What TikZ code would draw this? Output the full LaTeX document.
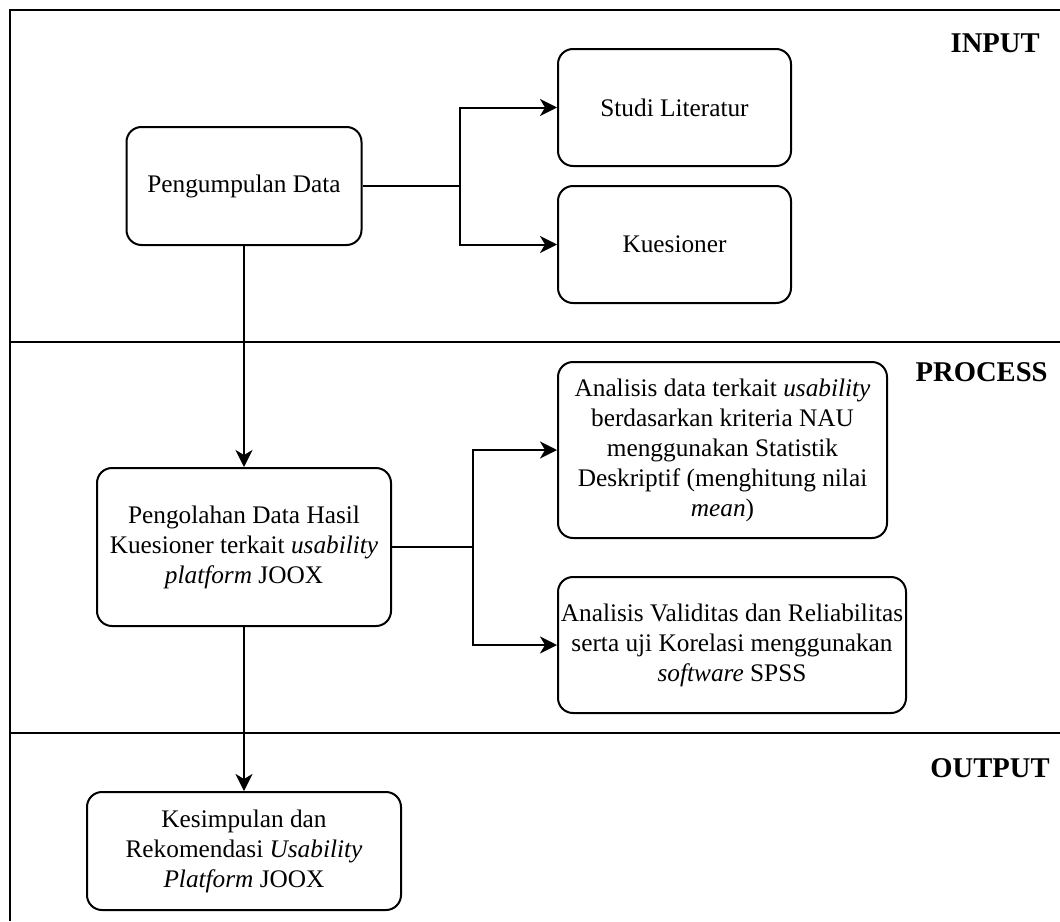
\documentclass[tikz,border=0pt]{standalone}
\usepackage{fontspec}
\setmainfont{Liberation Serif}
\usetikzlibrary{arrows.meta}
\begin{document}
\begin{tikzpicture}[x=0.5pt,y=-0.5pt,
  frame/.style={line width=1pt},
  proc/.style={draw, line width=1pt, rounded corners=7.5pt, align=center, inner sep=0pt,
    font=\fontsize{12.65}{15}\selectfont},
  head/.style={anchor=east, inner sep=0pt, font=\fontsize{14.3}{16}\selectfont\bfseries},
  link/.style={line width=1pt},
  arr/.style={line width=1pt, -{Stealth[length=8.5pt,width=8.5pt,inset=2.5pt]}}]
\useasboundingbox (0,0) rectangle (1060,921);
% frame and lane dividers
\draw[frame] (10,921) -- (10,10) -- (1060,10);
\draw[frame] (10,342) -- (1060,342);
\draw[frame] (10,733) -- (1060,733);
% headings
\node[head] (hin) at (1040,43.5) {INPUT};
\node[head] (hpr) at (1048,372.5) {PROCESS};
\node[head] (hout) at (1050,768) {OUTPUT};
% boxes
\node[proc, minimum width=117.5pt, minimum height=59pt] (pd) at (244,186) {Pengumpulan Data};
\node[proc, minimum width=116.5pt, minimum height=58.5pt] (sl) at (674.5,107.5) {Studi Literatur};
\node[proc, minimum width=116.5pt, minimum height=58.5pt] (kq) at (674.5,244.5) {Kuesioner};
\node[proc, minimum width=147pt, minimum height=79pt] (po) at (244,547) {Pengolahan Data Hasil\\ Kuesioner terkait \textit{usability}\\ \textit{platform} JOOX};
\node[proc, minimum width=164.5pt, minimum height=88pt] (ad) at (722.5,450) {Analisis data terkait \textit{usability}\\ berdasarkan kriteria NAU\\ menggunakan Statistik\\ Deskriptif (menghitung nilai\\ \textit{mean})};
\node[proc, minimum width=174pt, minimum height=68pt] (av) at (732,645) {Analisis Validitas dan Reliabilitas\\ serta uji Korelasi menggunakan\\ \textit{software} SPSS};
\node[proc, minimum width=157pt, minimum height=59pt] (ks) at (244,851) {Kesimpulan dan\\ Rekomendasi \textit{Usability}\\ \textit{Platform} JOOX};
% connectors
\coordinate (j1) at (460,186);
\coordinate (j2) at (473,547);
\draw[link] (pd.east) -- (j1);
\draw[arr] (j1) |- (sl.west);
\draw[arr] (j1) |- (kq.west);
\draw[arr] (pd.south) -- (po.north);
\draw[link] (po.east) -- (j2);
\draw[arr] (j2) |- (ad.west);
\draw[arr] (j2) |- (av.west);
\draw[arr] (po.south) -- (ks.north);
\end{tikzpicture}
\end{document}
